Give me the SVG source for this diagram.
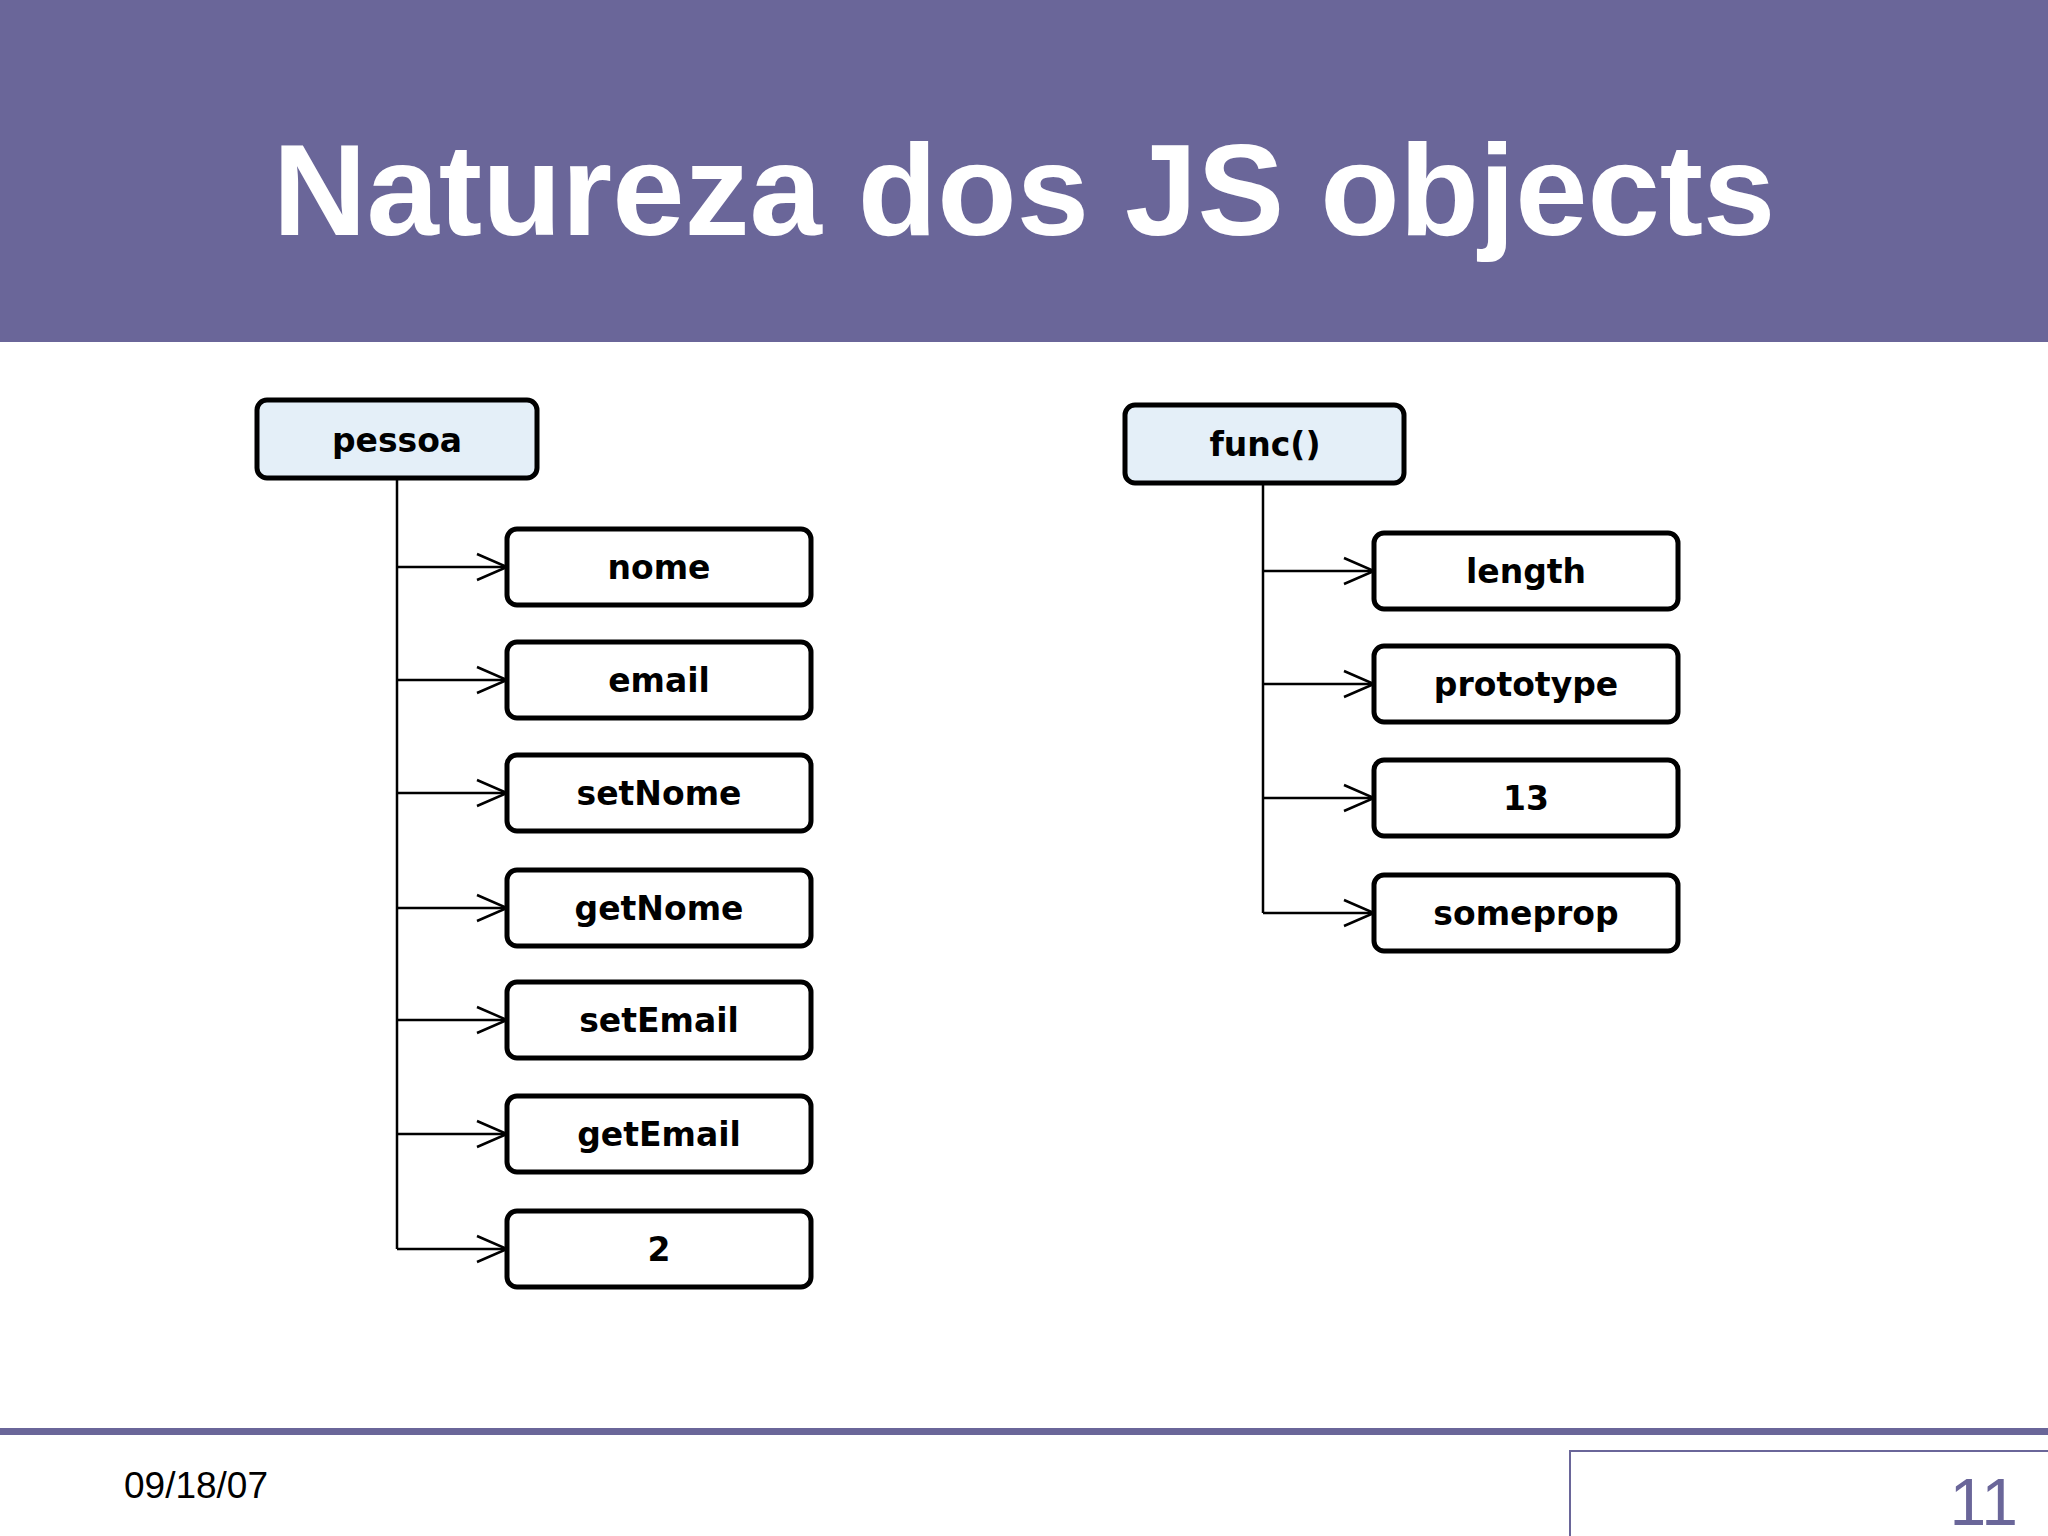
<svg xmlns="http://www.w3.org/2000/svg" width="2048" height="1536" viewBox="0 0 2048 1536">
<style>
.box{fill:#fff;stroke:#000;stroke-width:5}
.root{fill:#e4eff8;stroke:#000;stroke-width:5}
.t{font-family:"DejaVu Sans",sans-serif;font-size:33px;font-weight:bold;text-anchor:middle;dominant-baseline:central}
.c{stroke:#000;stroke-width:2.5;fill:none}
</style>
<defs><marker id="a" markerWidth="34" markerHeight="30" refX="32" refY="15" markerUnits="userSpaceOnUse" orient="auto"><path d="M2,2 L32,15 L2,28" fill="none" stroke="#000" stroke-width="2.5"/></marker></defs>
<rect x="0" y="0" width="2048" height="342" fill="#6a6699"/>
<text x="1024" y="235" font-family="Liberation Sans,sans-serif" font-weight="bold" font-size="130" fill="#fff" text-anchor="middle">Natureza dos JS objects</text>
<g id="connectors">
<path class="c" d="M397,478 V1249"/>
<path class="c" d="M397,567 H507" marker-end="url(#a)"/>
<path class="c" d="M397,680 H507" marker-end="url(#a)"/>
<path class="c" d="M397,793 H507" marker-end="url(#a)"/>
<path class="c" d="M397,908 H507" marker-end="url(#a)"/>
<path class="c" d="M397,1020 H507" marker-end="url(#a)"/>
<path class="c" d="M397,1134 H507" marker-end="url(#a)"/>
<path class="c" d="M397,1249 H507" marker-end="url(#a)"/>
<path class="c" d="M1263,483 V913"/>
<path class="c" d="M1263,571 H1374" marker-end="url(#a)"/>
<path class="c" d="M1263,684 H1374" marker-end="url(#a)"/>
<path class="c" d="M1263,798 H1374" marker-end="url(#a)"/>
<path class="c" d="M1263,913 H1374" marker-end="url(#a)"/>
</g>
<g id="pessoa"><rect class="root" x="257" y="400" width="280" height="78" rx="10"/><text class="t" x="397" y="440">pessoa</text></g>
<g id="nome"><rect class="box" x="507" y="529" width="304" height="76" rx="10"/><text class="t" x="659" y="567">nome</text></g>
<g id="email"><rect class="box" x="507" y="642" width="304" height="76" rx="10"/><text class="t" x="659" y="680">email</text></g>
<g id="setNome"><rect class="box" x="507" y="755" width="304" height="76" rx="10"/><text class="t" x="659" y="793">setNome</text></g>
<g id="getNome"><rect class="box" x="507" y="870" width="304" height="76" rx="10"/><text class="t" x="659" y="908">getNome</text></g>
<g id="setEmail"><rect class="box" x="507" y="982" width="304" height="76" rx="10"/><text class="t" x="659" y="1020">setEmail</text></g>
<g id="getEmail"><rect class="box" x="507" y="1096" width="304" height="76" rx="10"/><text class="t" x="659" y="1134">getEmail</text></g>
<g id="two"><rect class="box" x="507" y="1211" width="304" height="76" rx="10"/><text class="t" x="659" y="1249">2</text></g>
<g id="func"><rect class="root" x="1125" y="405" width="279" height="78" rx="10"/><text class="t" x="1265" y="444">func()</text></g>
<g id="length"><rect class="box" x="1374" y="533" width="304" height="76" rx="10"/><text class="t" x="1526" y="571">length</text></g>
<g id="prototype"><rect class="box" x="1374" y="646" width="304" height="76" rx="10"/><text class="t" x="1526" y="684">prototype</text></g>
<g id="n13"><rect class="box" x="1374" y="760" width="304" height="76" rx="10"/><text class="t" x="1526" y="798">13</text></g>
<g id="someprop"><rect class="box" x="1374" y="875" width="304" height="76" rx="10"/><text class="t" x="1526" y="913">someprop</text></g>
<rect x="0" y="1428" width="2048" height="7" fill="#6a6699"/>
<text x="124" y="1498" font-family="Liberation Sans,sans-serif" font-size="37" fill="#000">09/18/07</text>
<rect x="1570" y="1451" width="490" height="100" fill="#fff" stroke="#6a6699" stroke-width="2"/>
<text x="2018" y="1525" font-family="Liberation Sans,sans-serif" font-size="66" fill="#6a6699" text-anchor="end">11</text>
</svg>
